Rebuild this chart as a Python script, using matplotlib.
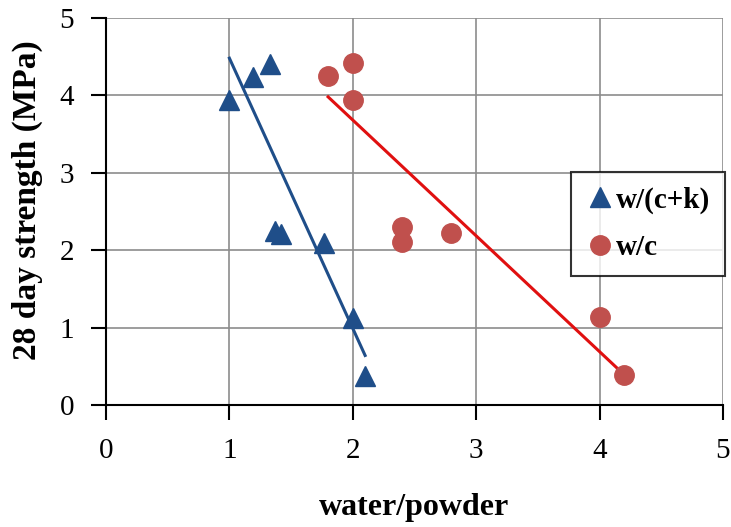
import matplotlib.pyplot as plt

plt.rcParams['font.family'] = ['Liberation Serif', 'DejaVu Serif']

# w/(c+k) series
x_wck = [1.0, 1.19, 1.33, 1.37, 1.42, 1.77, 2.0, 2.1]
y_wck = [3.94, 4.24, 4.40, 2.25, 2.21, 2.09, 1.12, 0.37]
# w/c series
x_wc = [1.8, 2.0, 2.0, 2.4, 2.4, 2.8, 4.0, 4.2]
y_wc = [4.25, 4.42, 3.94, 2.30, 2.11, 2.22, 1.14, 0.39]

# trend lines as drawn in the original (end points)
trend_wck_x = [1.0, 2.1]
trend_wck_y = [4.48, 0.64]
trend_wc_x = [1.8, 4.2]
trend_wc_y = [3.98, 0.39]

blue = '#1F4E89'
red_pt = '#C0504D'
red_ln = '#E01010'

fig = plt.figure(figsize=(7.31, 5.27), dpi=100)
ax = fig.add_axes([0.145, 0.2315, 0.844, 0.7345])

ax.plot(trend_wck_x, trend_wck_y, color=blue, lw=2.2, zorder=2)
ax.plot(trend_wc_x, trend_wc_y, color=red_ln, lw=2.2, zorder=2)

ax.plot(x_wck, y_wck, '^', color=blue, ms=14, label='w/(c+k)', zorder=3)
ax.plot(x_wc, y_wc, 'o', color=red_pt, ms=14, label='w/c', zorder=3)

ax.set_xlim(0, 5)
ax.set_ylim(0, 5)
ax.set_xticks(range(6))
ax.set_yticks(range(6))
ax.grid(True, color='#8c8c8c', lw=1.2)
ax.set_axisbelow(True)
for s in ['top', 'right']:
    ax.spines[s].set_visible(False)
for s in ['left', 'bottom']:
    ax.spines[s].set_linewidth(1.5)
ax.tick_params(direction='out', length=11, width=1.5, labelsize=21)
ax.tick_params(axis='y', pad=12)
ax.tick_params(axis='x', pad=13)

ax.set_xlabel('water/powder', fontsize=23, fontweight='bold', labelpad=21)
ax.set_ylabel('28 day strength (MPa)', fontsize=24, fontweight='bold')
ax.yaxis.set_label_coords(-0.102, 0.53)

leg = ax.legend(loc='center right', bbox_to_anchor=(1.003, 0.468),
                prop={'weight': 'bold', 'size': 21}, frameon=True, fancybox=False,
                handletextpad=0.05, handlelength=1.0, borderpad=0.5, labelspacing=0.7,
                borderaxespad=0.0)
leg.get_frame().set_edgecolor('black')
leg.get_frame().set_linewidth(1.5)

fig.savefig('out.png', dpi=100)
